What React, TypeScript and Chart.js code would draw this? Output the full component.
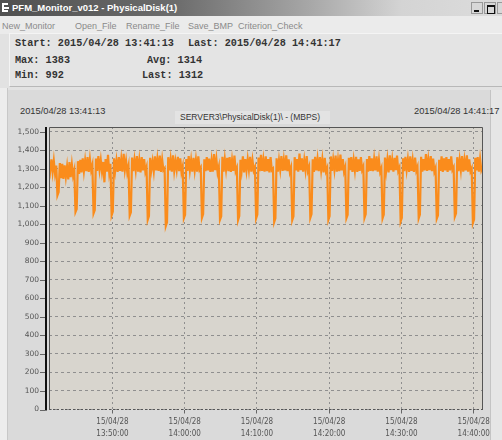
import React, { useEffect, useRef } from "react";
import { Chart, registerables } from "chart.js";
Chart.register(...registerables);

// ---- data ----
const startSec = 13 * 3600 + 41 * 60 + 13; // 13:41:13
const endSec = 14 * 3600 + 41 * 60 + 17; // 14:41:17
const sampleIntervalSec = 10;

const xTickSeconds = [49800, 50400, 51000, 51600, 52200, 52800];
const xTickDates = ["15/04/28", "15/04/28", "15/04/28", "15/04/28", "15/04/28", "15/04/28"];
const xTickTimes = ["13:50:00", "14:00:00", "14:10:00", "14:20:00", "14:30:00", "14:40:00"];
const yTickValues = [0, 100, 200, 300, 400, 500, 600, 700, 800, 900, 1000, 1100, 1200, 1300, 1400, 1500];
const yMax = 1527;

const mbps = [
  1338, 1290, 1352, 1284, 1344, 1276, 1318, 1158, 1176, 1332, 1250, 1328, 1246, 1320, 1258,
  1314, 1244, 1338, 1256, 1324, 1264, 1294, 1068, 1084, 1342, 1274, 1350, 1282, 1358, 1288,
  1346, 1288, 1364, 1284, 1352, 1294, 1322, 1060, 1078, 1356, 1290, 1370, 1296, 1348, 1286,
  1338, 1228, 1354, 1286, 1376, 1282, 1328, 1050, 1070, 1358, 1292, 1346, 1284, 1364, 1290,
  1352, 1286, 1382, 1296, 1344, 1282, 1316, 1048, 1066, 1362, 1288, 1350, 1294, 1370, 1286,
  1348, 1282, 1364, 1292, 1354, 1286, 1310, 1026, 1046, 1360, 1296, 1342, 1288, 1368, 1292,
  1354, 1290, 1372, 1284, 1350, 1294, 1304, 992, 1012, 1364, 1292, 1352, 1286, 1374, 1290,
  1342, 1296, 1366, 1288, 1358, 1284, 1314, 1034, 1052, 1354, 1290, 1370, 1294, 1348, 1286,
  1360, 1292, 1350, 1286, 1368, 1296, 1308, 1036, 1056, 1352, 1288, 1364, 1292, 1356, 1284,
  1346, 1286, 1380, 1294, 1352, 1282, 1312, 1026, 1044, 1366, 1286, 1354, 1296, 1360, 1288,
  1364, 1284, 1348, 1290, 1372, 1288, 1306, 1024, 1046, 1350, 1294, 1368, 1282, 1354, 1292,
  1352, 1296, 1366, 1286, 1346, 1292, 1310, 1034, 1054, 1362, 1288, 1376, 1290, 1350, 1286,
  1368, 1288, 1354, 1282, 1364, 1294, 1302, 1014, 1034, 1358, 1286, 1348, 1296, 1370, 1290,
  1350, 1292, 1374, 1288, 1352, 1284, 1308, 1024, 1044, 1364, 1292, 1354, 1286, 1383, 1294,
  1358, 1286, 1348, 1294, 1370, 1290, 1312, 1036, 1056, 1352, 1284, 1366, 1292, 1354, 1288,
  1364, 1294, 1352, 1282, 1360, 1288, 1306, 1026, 1046, 1368, 1290, 1350, 1296, 1372, 1286,
  1348, 1288, 1378, 1292, 1354, 1286, 1310, 1034, 1052, 1360, 1294, 1364, 1284, 1348, 1292,
  1366, 1284, 1352, 1290, 1364, 1296, 1314, 1036, 1056, 1354, 1286, 1370, 1290, 1358, 1288,
  1354, 1292, 1368, 1286, 1348, 1284, 1304, 1034, 1054, 1362, 1292, 1352, 1282, 1374, 1294,
  1350, 1286, 1360, 1294, 1372, 1290, 1308, 1016, 1036, 1358, 1288, 1366, 1296, 1352, 1284,
  1368, 1290, 1348, 1284, 1362, 1292, 1312, 1034, 1054, 1366, 1286, 1354, 1292, 1380, 1290,
  1352, 1294, 1370, 1288, 1356, 1286, 1306, 1032, 1050, 1350, 1290, 1368, 1284, 1358, 1292,
  1364, 1284, 1354, 1292, 1368, 1296, 1310, 1042, 1060, 1364, 1288, 1350, 1294, 1370, 1286,
  1348, 1292, 1374, 1286, 1352, 1288, 1304, 1008, 1028, 1360, 1292, 1364, 1286, 1354, 1294,
  1312,
];

const PLOT_BG = "#d8d5ce";
const LINE_COLOR = "#fa8c1c";

const framePlugin = {
  id: "framePlugin",
  beforeDraw(chart: any) {
    const { ctx, chartArea: a } = chart;
    ctx.save();
    ctx.fillStyle = PLOT_BG;
    ctx.fillRect(a.left, a.top, a.right - a.left, a.bottom - a.top);
    ctx.restore();
  },
  afterDraw(chart: any) {
    const { ctx, chartArea: a, scales } = chart;
    ctx.save();
    ctx.lineWidth = 1;
    ctx.strokeStyle = "#555555";
    ctx.beginPath();
    ctx.moveTo(a.left + 0.5, a.bottom);
    ctx.lineTo(a.left + 0.5, a.top + 0.5);
    ctx.lineTo(a.right - 0.5, a.top + 0.5);
    ctx.lineTo(a.right - 0.5, a.bottom);
    ctx.stroke();
    ctx.setLineDash([2, 2]);
    ctx.strokeStyle = "#555555";
    ctx.beginPath();
    ctx.moveTo(a.left, Math.round(a.bottom) - 0.5);
    ctx.lineTo(a.right, Math.round(a.bottom) - 0.5);
    ctx.stroke();
    ctx.setLineDash([]);
    ctx.fillStyle = "#111111";
    ctx.fillRect(a.left - 4, a.top, 2, a.bottom - a.top + 1);
    ctx.strokeStyle = "#666666";
    for (const v of yTickValues) {
      const y = Math.round(scales.y.getPixelForValue(v)) + 0.5;
      ctx.beginPath();
      ctx.moveTo(a.left - 9, y);
      ctx.lineTo(a.left - 4, y);
      ctx.stroke();
    }
    ctx.restore();
  },
};

function PerfChart() {
  const ref = useRef<HTMLCanvasElement | null>(null);
  useEffect(() => {
    if (!ref.current) return;
    const points = mbps.map((v, i) => ({ x: startSec + i * sampleIntervalSec, y: v }));
    const chart = new Chart(ref.current, {
      type: "line",
      data: {
        datasets: [
          {
            data: points,
            borderColor: LINE_COLOR,
            borderWidth: 2.2,
            pointRadius: 0,
            tension: 0,
            fill: false,
          },
        ],
      },
      options: {
        animation: false,
        responsive: false,
        events: [],
        layout: { padding: { top: 36, right: 19, left: 0, bottom: 0 } },
        plugins: { legend: { display: false }, tooltip: { enabled: false } },
        scales: {
          x: {
            type: "linear",
            min: startSec,
            max: endSec,
            afterBuildTicks: (s: any) => {
              s.ticks = xTickSeconds.map((v) => ({ value: v }));
            },
            afterFit: (s: any) => {
              s.height = 30.5;
            },
            grid: {
              color: "#8f8f8f",
              lineWidth: 1,
              drawTicks: true,
              tickLength: 4,
              tickColor: "#666666",
              tickBorderDash: [],
            },
            border: { display: false, dash: [2, 3] },
            ticks: {
              autoSkip: false,
              maxRotation: 0,
              padding: 2,
              color: "#555555",
              font: { family: '"Liberation Sans Narrow", "DejaVu Sans Condensed", "Liberation Sans", sans-serif', size: 8, lineHeight: 1.5 },
              callback: (value: any) => {
                const i = xTickSeconds.indexOf(Number(value));
                return i >= 0 ? [xTickDates[i], xTickTimes[i]] : "";
              },
            },
          },
          y: {
            type: "linear",
            min: 0,
            max: yMax,
            afterBuildTicks: (s: any) => {
              s.ticks = yTickValues.map((v) => ({ value: v }));
            },
            afterFit: (s: any) => {
              s.width = 39;
            },
            grid: { color: "#8f8f8f", lineWidth: 1, drawTicks: false },
            border: { display: false, dash: [3, 3] },
            ticks: {
              padding: 10,
              color: "#555555",
              font: { family: '"DejaVu Sans", sans-serif', size: 7.5 },
              callback: (value: any) => Number(value).toLocaleString("en-US"),
            },
          },
        },
      },
      plugins: [framePlugin],
    } as any);
    return () => chart.destroy();
  }, []);
  return (
    <canvas
      ref={ref}
      width={492}
      height={349}
      style={{ position: "absolute", left: 10, top: 91, width: 492, height: 349 }}
    />
  );
}

const abs = (o: any) => ({ position: "absolute" as const, ...o });

export default function App() {
  const mono = '"Liberation Mono", "DejaVu Sans Mono", monospace';
  const sans = '"Liberation Sans", Arial, sans-serif';
  const infoText = { fontFamily: mono, fontWeight: 700, fontSize: 10.2, color: "#333", lineHeight: "12px", whiteSpace: "pre" as const };
  const menuText = { fontFamily: sans, fontSize: 9, color: "#8a8a8a", lineHeight: "12px", whiteSpace: "pre" as const };
  return (
    <div style={abs({ left: 0, top: 0, width: 502, height: 440, background: "#e2e2e2", overflow: "hidden", position: "fixed" })}>
      {/* title bar */}
      <div style={abs({ left: 0, top: 0, width: 502, height: 16, background: "linear-gradient(to right, #505050 0%, #6c6c6c 35%, #a8a8a8 62%, #d4d4d4 80%, #dcdcdc 100%)" })}>
        <div style={abs({ left: 2, top: 3, width: 6, height: 9, borderLeft: "2px solid #fff", borderTop: "2px solid #fff", borderBottom: "2px solid #fff", boxSizing: "border-box" })} />
        <div style={abs({ left: 4, top: 7, width: 5, height: 2, background: "#fff" })} />
        <div style={abs({ left: 12, top: 2, fontFamily: sans, fontWeight: 700, fontSize: 9.5, color: "#ffffff", lineHeight: "12px", whiteSpace: "pre" })}>PFM_Monitor_v012 - PhysicalDisk(1)</div>
        <div style={abs({ left: 471, top: 2, width: 12, height: 12, background: "#d8d8d8", border: "1px solid #999", boxSizing: "border-box" })}>
          <div style={abs({ left: 2, top: 7, width: 5, height: 2, background: "#111" })} />
        </div>
        <div style={abs({ left: 484, top: 2, width: 12, height: 12, background: "#d8d8d8", border: "1px solid #999", boxSizing: "border-box" })}>
          <div style={abs({ left: 2, top: 2, width: 6, height: 6, border: "1px solid #111", borderTopWidth: 2 })} />
        </div>
        <div style={abs({ left: 497, top: 2, width: 12, height: 12, background: "#d8d8d8", border: "1px solid #999", boxSizing: "border-box" })} />
      </div>
      {/* menu bar */}
      <div style={abs({ left: 0, top: 16, width: 502, height: 18, background: "#ebebeb" })}>
        <div style={abs({ left: 2, top: 4, ...menuText })}>New_Monitor</div>
        <div style={abs({ left: 75, top: 4, ...menuText })}>Open_File</div>
        <div style={abs({ left: 126, top: 4, ...menuText })}>Rename_File</div>
        <div style={abs({ left: 188, top: 4, ...menuText })}>Save_BMP</div>
        <div style={abs({ left: 238, top: 4, ...menuText })}>Criterion_Check</div>
      </div>
      {/* info panel */}
      <div style={abs({ left: 9, top: 33, width: 493, height: 54, background: "#e4e4e4", borderTop: "1px solid #f4f4f4", borderLeft: "1px solid #f4f4f4", borderBottom: "1px solid #b8b8b8", boxSizing: "border-box" })} />
      <div style={abs({ left: 15, top: 38, ...infoText })}>Start: 2015/04/28 13:41:13</div>
      <div style={abs({ left: 188, top: 38, ...infoText })}>Last: 2015/04/28 14:41:17</div>
      <div style={abs({ left: 15, top: 55, ...infoText })}>Max: 1383</div>
      <div style={abs({ left: 147, top: 55, ...infoText })}>Avg: 1314</div>
      <div style={abs({ left: 15, top: 70, ...infoText })}>Min: 992</div>
      <div style={abs({ left: 142, top: 70, ...infoText })}>Last: 1312</div>
      {/* left strip */}
      <div style={abs({ left: 0, top: 88, width: 8, height: 352, background: "#ededed", borderRight: "1px solid #c8c8c8", boxSizing: "border-box" })} />
      {/* chart panel */}
      <div style={abs({ left: 8, top: 90, width: 482, height: 350, background: "#dadada" })} />
      <div style={abs({ left: 490, top: 90, width: 12, height: 350, background: "#e6e6e6", borderLeft: "1px solid #c4c4c4", boxSizing: "border-box" })} />
      <div style={abs({ left: 20, top: 105, fontFamily: sans, fontSize: 9.3, color: "#333", lineHeight: "12px", whiteSpace: "pre" })}>2015/04/28 13:41:13</div>
      <div style={abs({ left: 414, top: 105, fontFamily: sans, fontSize: 9.3, color: "#333", lineHeight: "12px", whiteSpace: "pre" })}>2015/04/28 14:41:17</div>
      <div style={abs({ left: 175, top: 111, width: 155, height: 13, background: "#e3e3e3" })} />
      <div style={abs({ left: 180, top: 112, fontFamily: sans, fontSize: 8.5, color: "#333", lineHeight: "11px", whiteSpace: "pre" })}>{"SERVER3\\PhysicalDisk(1)\\ - (MBPS)"}</div>
      <PerfChart />
    </div>
  );
}
